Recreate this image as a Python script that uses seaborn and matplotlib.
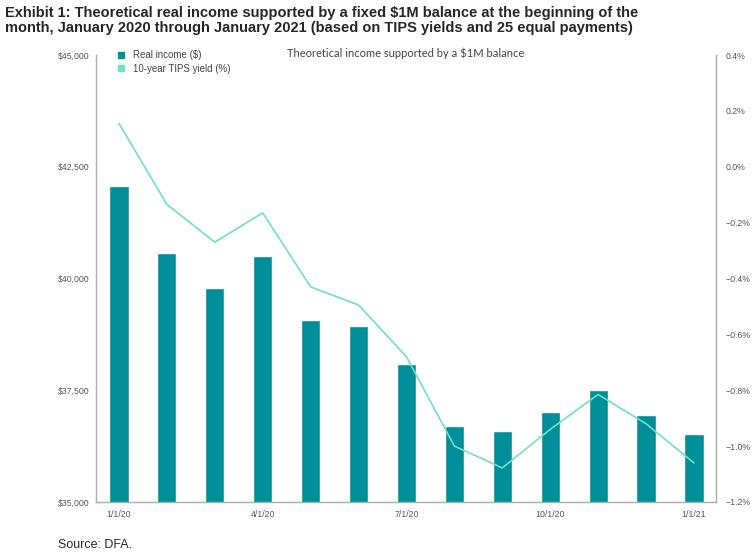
import numpy as np
import pandas as pd
import matplotlib
matplotlib.use('Agg')
import matplotlib.pyplot as plt
import seaborn as sns
from matplotlib.lines import Line2D

# --- data ---
months = ['1/1/20', '2/1/20', '3/1/20', '4/1/20', '5/1/20', '6/1/20', '7/1/20',
          '8/1/20', '9/1/20', '10/1/20', '11/1/20', '12/1/20', '1/1/21']
real_income = [42070, 40570, 39790, 40500, 39070, 38940, 38090,
               36700, 36590, 37010, 37510, 36950, 36520]
tips_yield = [0.155, -0.135, -0.27, -0.165, -0.43, -0.495, -0.68,
              -1.0, -1.078, -0.94, -0.815, -0.92, -1.06]
shown_ticks = ['1/1/20', '4/1/20', '7/1/20', '10/1/20', '1/1/21']
left_ticks = [35000, 37500, 40000, 42500, 45000]
right_ticks = [-1.2, -1.0, -0.8, -0.6, -0.4, -0.2, 0.0, 0.2, 0.4]

bar_color = '#008f99'
line_color = '#6fe0c6'
tick_color = '#555555'
spine_color = '#b0b0b0'

df = pd.DataFrame({'month': months, 'income': real_income, 'yield': tips_yield})
df['pos'] = np.arange(len(df))

sns.set_style('white')
plt.rcParams['font.family'] = ['Liberation Sans', 'DejaVu Sans']

fig = plt.figure(figsize=(7.54, 5.55), dpi=100)
ax = fig.add_axes([0.1273, 0.0955, 0.8223, 0.8054])

sns.barplot(data=df, x='month', y='income', color=bar_color, width=0.4,
            saturation=1, ax=ax)
ax.set_ylim(35000, 45000)
ax.set_xlim(-0.48, 12.46)
ax.set_yticks(left_ticks)
ax.set_yticklabels([f'${v:,.0f}' for v in left_ticks])
ax.set_xticks([months.index(m) for m in shown_ticks])
ax.set_xticklabels(shown_ticks)
ax.set_xlabel('')
ax.set_ylabel('')
ax.tick_params(axis='both', length=0, labelsize=6.3, colors=tick_color)
ax.tick_params(axis='x', pad=6)
ax.tick_params(axis='y', pad=5)

ax2 = ax.twinx()
sns.lineplot(data=df, x='pos', y='yield', color=line_color, linewidth=1.2, ax=ax2)
ax2.set_ylim(-1.2, 0.4)
ax2.set_yticks(right_ticks)
ax2.set_yticklabels([f'{v:.1f}%'.replace('-', '\u2212') for v in right_ticks])
ax2.set_ylabel('')
ax2.set_xlabel('')
ax2.tick_params(axis='y', length=0, labelsize=6.3, colors=tick_color, pad=7)
ax2.set_xlim(-0.48, 12.46)

for a in (ax, ax2):
    a.spines['top'].set_visible(False)
    for s in ('left', 'right', 'bottom'):
        a.spines[s].set_color(spine_color)
        a.spines[s].set_linewidth(0.9)

handles = [Line2D([], [], marker='s', linestyle='', color=bar_color, markersize=5),
           Line2D([], [], marker='s', linestyle='', color=line_color, markersize=5)]
ax.legend(handles, ['Real income ($)', '10-year TIPS yield (%)'], loc='upper left',
          bbox_to_anchor=(0.01, 1.03), frameon=False, fontsize=7, handletextpad=0.3,
          labelspacing=0.35, labelcolor='#444444')

fig.text(0.381, 0.897, 'Theoretical income supported by a $1M balance',
         fontsize=8, color='#444444', family=['Lato', 'DejaVu Sans'])

fig.text(0.007, 0.99, 'Exhibit 1: Theoretical real income supported by a fixed $1M balance at the beginning of the\n'
         'month, January 2020 through January 2021 (based on TIPS yields and 25 equal payments)',
         fontsize=10.5, fontweight='bold', va='top', ha='left', linespacing=1.15)
fig.text(0.077, 0.008, 'Source: DFA.', fontsize=9, va='bottom')

fig.savefig('out.png', dpi=100)
